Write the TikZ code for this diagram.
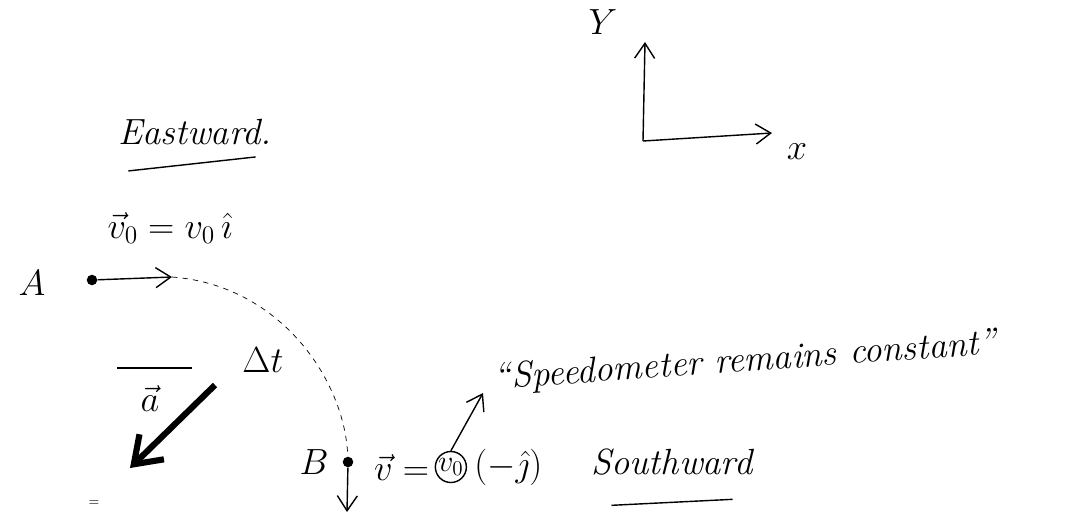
\documentclass[tikz,border=0pt]{standalone}
\usetikzlibrary{arrows.meta,positioning}

\begin{document}
\begin{tikzpicture}[
    x=0.02cm, y=-0.02cm,
    hand/.style={font=\huge\itshape, inner sep=1pt},
    mathlbl/.style={font=\huge, inner sep=1pt},
    arrow/.style={-{Straight Barb[length=3mm,width=4mm]}, thick},
    dotpt/.style={circle, fill=black, inner sep=0pt, minimum size=6pt},
    pathline/.style={dashed, thin}
]
\useasboundingbox (0,0) rectangle (1078,529);

% axes
\coordinate (origin) at (643,141);
\coordinate (ytip) at (645,42);
\coordinate (xtip) at (772,133);
\draw[arrow] (origin) -- (ytip);
\draw[arrow] (origin) -- (xtip);
\node[mathlbl] (ylbl) at (603,22) {$Y$};
\node[mathlbl] (xlbl) at (797,152) {$x$};

% point A, moving east
\node[hand] (east) at (195,132) {Eastward.};
\draw[thick] ([shift={(12,24)}]east.south west) -- ([shift={(-18,10)}]east.south east);
\node[mathlbl] (vzero) at (170,228) {$\vec{v}_0 = v_0\,\hat{\imath}$};
\node[mathlbl] (lblA) at (32,283) {$A$};
\node[dotpt] (ptA) at (92,280) {};
\coordinate (tipA) at (172,277);
\draw[arrow] (ptA) -- (tipA);

% point B, moving south
\node[dotpt] (ptB) at (348,462) {};
\node[mathlbl] (lblB) at (314,462) {$B$};
\coordinate (tipB) at (347,512);
\draw[arrow] (ptB) -- (tipB);
\draw[pathline] (tipA) .. controls (280,285) and (345,380) .. (ptB);
\node[mathlbl] (dt) at (263,360) {$\Delta t$};

% average acceleration
\draw[thick] (117,368) -- (192,368);
\node[mathlbl] (avec) at (150,398) {$\vec{a}$};
\coordinate (aTail) at (215,385);
\coordinate (aTip) at (130,468);
\draw[-{Straight Barb[length=5mm,width=7mm]}, line width=3.5pt] (aTail) -- (aTip);
\node[font=\scriptsize] (tick) at (94,503) {=};

% velocity at B
\node[mathlbl, anchor=west] (vB) at (372,467) {$\vec{v} =$};
\node[draw, circle, thick, inner sep=0pt, font=\LARGE, right=2pt of vB] (vcirc) {$v_0$};
\node[mathlbl, right=3pt of vcirc] (dirj) {$(-\hat{\jmath})$};
\node[hand, rotate=4] (speedo) at (745,362) {``Speedometer remains constant''};
\coordinate (spdtip) at (483,393);
\draw[arrow] (vcirc.north) -- (spdtip);
\node[hand] (south) at (672,462) {Southward};
\draw[thick] ([shift={(22,28)}]south.south west) -- ([shift={(-22,22)}]south.south east);
\end{tikzpicture}
\end{document}
